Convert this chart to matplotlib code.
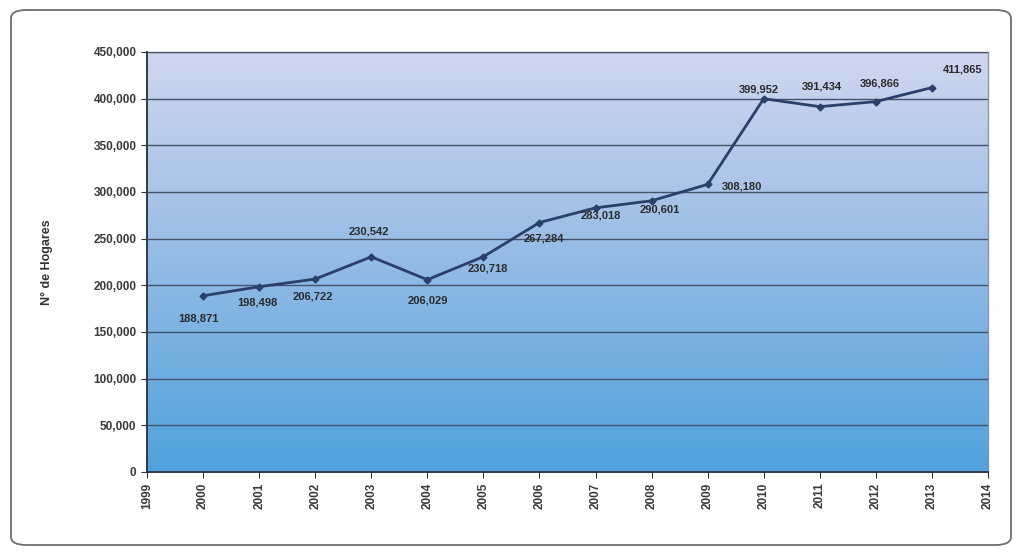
import numpy as np
import matplotlib
matplotlib.use("Agg")
import matplotlib.pyplot as plt
from matplotlib.colors import LinearSegmentedColormap
from matplotlib.patches import FancyBboxPatch
from matplotlib.ticker import FuncFormatter, MultipleLocator

years = [2000, 2001, 2002, 2003, 2004, 2005, 2006, 2007, 2008, 2009, 2010, 2011, 2012, 2013]
hogares = [188871, 198498, 206722, 230542, 206029, 230718, 267284, 283018, 290601,
           308180, 399952, 391434, 396866, 411865]
# label offsets in pixels (dx, dy) relative to each point
label_offsets = [(-5, -23), (-2, -16), (-2, -17), (-2, 25), (0, -21), (4, -12), (4, -16),
                 (5, -8), (8, -9), (34, -2), (-5, 9), (2, 20), (4, 18), (31, 18)]
xtick_years = list(range(1999, 2015))

plt.rcParams['font.family'] = ['Liberation Sans', 'DejaVu Sans']

fig = plt.figure(figsize=(10.19, 5.55), dpi=100)
fig.patch.set_facecolor('white')

# rounded outer frame
frame = FancyBboxPatch((11 / 1019, 10 / 555), 1000 / 1019, 535 / 555,
                       boxstyle="round,pad=0,rounding_size=0.015",
                       transform=fig.transFigure, facecolor='white',
                       edgecolor='#6e6e6e', linewidth=1.3, zorder=-5)
fig.patches.append(frame)

ax = fig.add_axes([147 / 1019, 1 - 472 / 555, 841 / 1019, 420 / 555])
ax.set_zorder(5)
ax.set_xlim(1999, 2014)
ax.set_ylim(0, 450000)

# vertical gradient background
cmap = LinearSegmentedColormap.from_list(
    'bg', ['#4fa2dd', '#7cb2e2', '#aac4e8', '#d0d7ef'])
grad = np.linspace(0, 1, 256).reshape(-1, 1)
ax.imshow(grad, aspect='auto', cmap=cmap, origin='lower',
          extent=[1999, 2014, 0, 450000], zorder=0)

ax.yaxis.set_major_locator(MultipleLocator(50000))
ax.set_xticks(xtick_years)
ax.set_xticklabels([str(y) for y in xtick_years], rotation=90)
ax.yaxis.set_major_formatter(FuncFormatter(lambda v, p: f"{int(v):,}"))
ax.grid(axis='y', color='#44536a', linewidth=1.0, zorder=1)
ax.set_axisbelow(False)

for side in ['top', 'right']:
    ax.spines[side].set_color('#8a96aa')
    ax.spines[side].set_linewidth(1.0)
for side in ['left', 'bottom']:
    ax.spines[side].set_color('#2f3a4a')
    ax.spines[side].set_linewidth(1.4)

ax.tick_params(axis='both', labelsize=8.5, colors='#333333', length=4, width=0.8,
               direction='out')
for lab in ax.get_xticklabels() + ax.get_yticklabels():
    lab.set_fontweight('bold')
    lab.set_color('#3a3a3a')

ax.plot(years, hogares, color='#2b3f6b', linewidth=2.0, marker='D', markersize=3.5,
        markerfacecolor='#2b3f6b', zorder=3)

for x, y, (dx, dy) in zip(years, hogares, label_offsets):
    ax.annotate(f"{y:,}", (x, y), xytext=(dx, dy), textcoords='offset pixels',
                ha='center', va='center', fontsize=8, fontweight='bold',
                color='#2a2a2a', zorder=4)

fig.text(47 / 1019, 1 - 262 / 555, "N° de Hogares", rotation=90, ha='center',
         va='center', fontsize=9, fontweight='bold', color='#333333', zorder=6)

fig.savefig('out.png', dpi=100)
